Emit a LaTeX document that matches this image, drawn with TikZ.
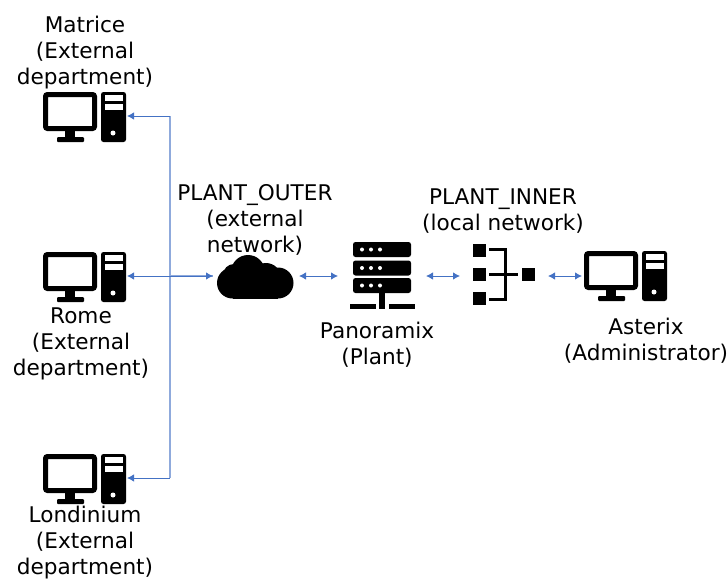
\documentclass[tikz,border=0pt]{standalone}
\usepackage{xcolor}
\usepackage{fontspec}
\setmainfont{DejaVu Sans}
\usetikzlibrary{arrows.meta}
\definecolor{linkblue}{HTML}{4472C4}
\definecolor{trunkblue}{HTML}{8FAADC}
\tikzset{
	label/.style={align=center, inner sep=0pt, font=\fontsize{21.6}{26}\selectfont},
	netlink/.style={draw=linkblue, line width=0.9pt, {Latex[length=7pt,width=7.5pt]}-{Latex[length=7pt,width=7.5pt]}},
	sidelink/.style={draw=linkblue, line width=0.9pt, {Latex[length=7pt,width=7.5pt]}-},
	trunk/.style={draw=trunkblue, line width=1.5pt},
	computer/.pic={
			\draw[line width=5pt, rounded corners=2pt] (2.5,2.5) rectangle (51.5,36.5);
			\fill (22,39) rectangle (32,45);
			\fill[rounded corners=1pt] (14,45) rectangle (41,50);
			\fill[rounded corners=2.5pt] (58,0) rectangle (83,50);
			\fill[white] (62,3) rectangle (80,8.5);
			\fill[white] (62,12) rectangle (80,18);
			\fill[white] (70,41) circle (2.5);
			\coordinate (-west) at (-2,25);
			\coordinate (-east) at (84,24);
		},
	cloudicon/.pic={
			\fill (15.5,28) circle (15.5);
			\fill (17,20) circle (11);
			\fill (31,17) circle (17);
			\fill (49,23) circle (15);
			\fill (61,28) circle (15.5);
			\fill (15.5,28) rectangle (61,43.5);
			\coordinate (-west) at (-4,21);
			\coordinate (-east) at (82,21);
		},
	servericon/.pic={
			\foreach \rowtop in {0,18.5,36}{
					\fill[rounded corners=2.5pt] (3,\rowtop) rectangle (61,\rowtop+15);
					\foreach \dotx in {12,21,30}{
							\fill[white] (\dotx,\rowtop+7.5) circle (2);
						}
				}
			\fill (29,51) rectangle (35,67);
			\fill (0,62) rectangle (25.5,67);
			\fill (38.5,62) rectangle (65,67);
			\coordinate (-west) at (-12,34);
			\coordinate (-east) at (76,34);
		},
	switchicon/.pic={
			\foreach \rowtop in {0,24,48}{
					\fill (0,\rowtop) rectangle (13,\rowtop+13);
				}
			\fill (49,24) rectangle (61.5,37);
			\draw[line width=3pt] (16,5.5) -- (32,5.5) -- (32,55) -- (16,55);
			\draw[line width=3pt] (16,30.5) -- (45,30.5);
			\coordinate (-west) at (-13,32);
			\coordinate (-east) at (75,32);
		},
}

\begin{document}
\begin{tikzpicture}[x=1pt, y=-1pt]
	\useasboundingbox (0,0) rectangle (728,579);

	\pic (matrice) at (43,92) {computer};
	\pic (rome) at (43,252) {computer};
	\pic (londinium) at (43,454) {computer};
	\pic (asterix) at (584,251) {computer};
	\pic (cloud) at (217,255) {cloudicon};
	\pic (panoramix) at (350,242) {servericon};
	\pic (inner) at (473,244) {switchicon};

	\node[label] (matricetext) at (85,53) {Matrice\\(External\\department)};
	\node[label] (rometext) at (81,344) {Rome\\(External\\department)};
	\node[label] (londiniumtext) at (85,543) {Londinium\\(External\\department)};
	\node[label] (outertext) at (255,220) {PLANT\_OUTER\\(external\\network)};
	\node[label] (panoramixtext) at (377,345) {Panoramix\\(Plant)};
	\node[label] (innertext) at (503,211) {PLANT\_INNER\\(local network)};
	\node[label] (asterixtext) at (646,341) {Asterix\\(Administrator)};

	\coordinate (hub) at (170,276);
	\coordinate (hubtop) at (170,116);
	\coordinate (hubbottom) at (170,478);

	\draw[trunk] (hubtop) -- (hubbottom);
	\draw[trunk] (hub) -- (cloud-west);
	\draw[sidelink] (matrice-east) -- (hubtop);
	\draw[sidelink] (londinium-east) -- (hubbottom);
	\draw[netlink] (rome-east) -- (cloud-west);
	\draw[netlink] (cloud-east) -- (panoramix-west);
	\draw[netlink] (panoramix-east) -- (inner-west);
	\draw[netlink] (inner-east) -- (asterix-west);
\end{tikzpicture}
\end{document}
